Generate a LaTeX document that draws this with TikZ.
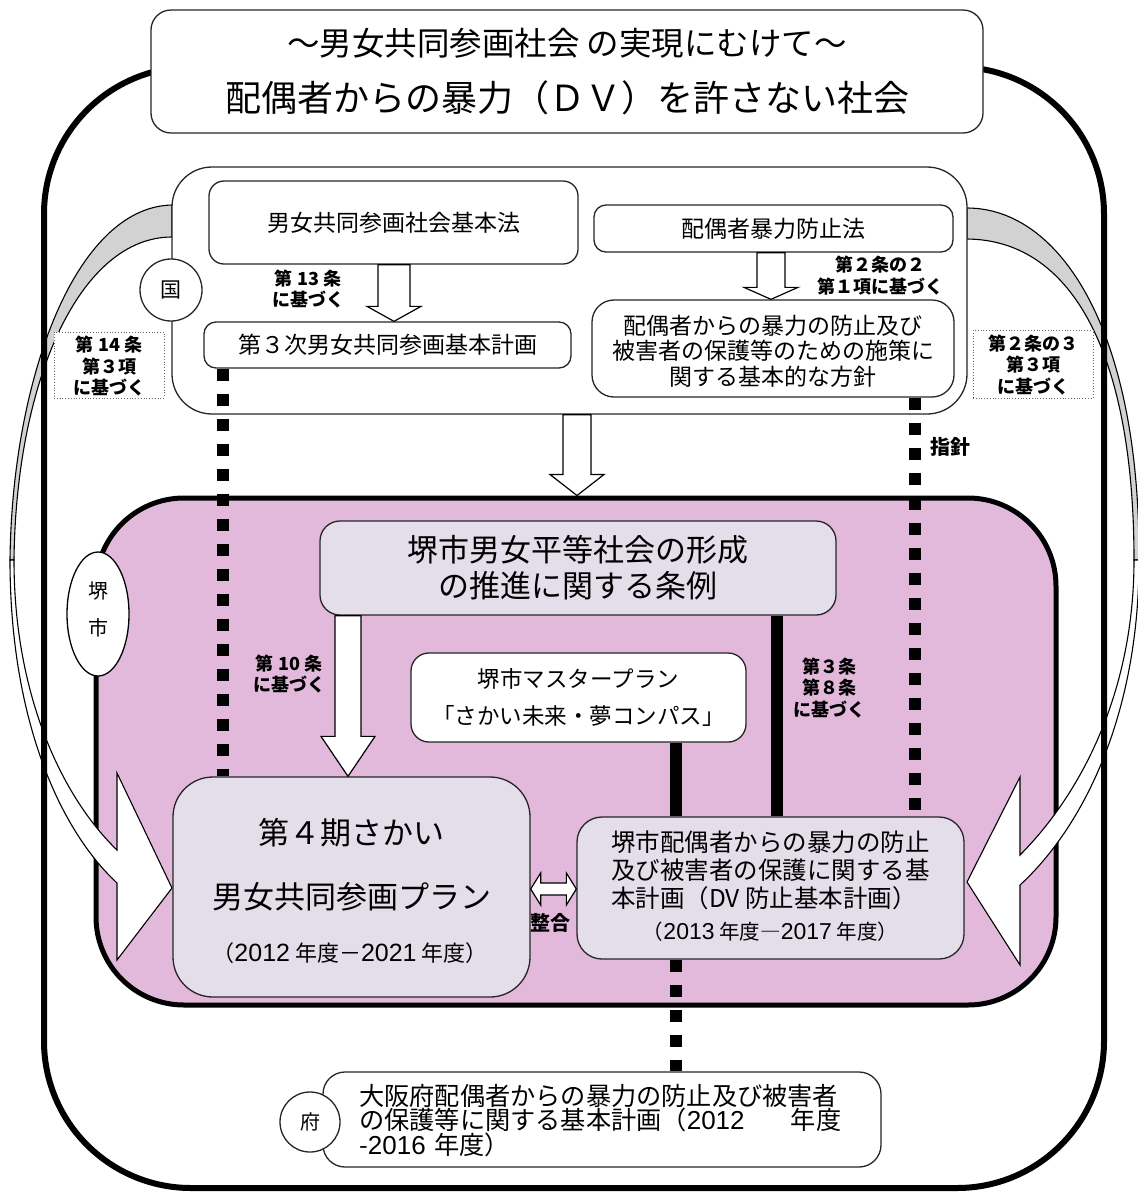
\documentclass[tikz,border=0pt]{standalone}
\usepackage{fontspec}
\setmainfont{Noto Sans CJK JP}
\newfontfamily\latf{Liberation Sans}
\usetikzlibrary{calc,shapes.geometric}
\definecolor{purp}{RGB}{226,184,219}
\definecolor{lav}{RGB}{228,222,235}
\definecolor{rgray}{RGB}{210,210,210}
\newcommand\jfs[2]{\fontsize{#1pt}{#2pt}\selectfont}
\newcommand\dg[2]{{\latf\fontsize{#1pt}{#1pt}\selectfont #2}}
\newcommand\bdarrow[5]{\draw[blockarr] let \p1=(#1), \p2=(#2) in (\x2-#3pt,\y1) -- (\x2-#3pt,\y2+#5pt) -- (\x2-#4pt,\y2+#5pt) -- (\x2,\y2) -- (\x2+#4pt,\y2+#5pt) -- (\x2+#3pt,\y2+#5pt) -- (\x2+#3pt,\y1) -- cycle;}
\tikzset{
  rbox/.style={draw=black!85, line width=1.3pt, rounded corners=#1, inner sep=0pt},
  rbox/.default=15pt,
  blockarr/.style={draw=black, line width=1.2pt, fill=white, line join=miter},
  ribbon/.style={draw=black, line width=1.1pt},
  dotl/.style={line width=12pt, dash pattern=on 12pt off 13pt},
  thickl/.style={line width=12pt},
  lbl/.style={font=\bfseries\jfs{18}{21.5}, align=center, inner sep=0pt},
  dbox/.style={draw=black!60, dotted, line width=0.8pt, fill=white, inner sep=0pt},
  txt/.style={inner sep=0pt, align=center},
}
\begin{document}
\begin{tikzpicture}[x=1pt,y=-1pt]
\useasboundingbox (0,0) rectangle (1138,1192);
% Sakai region
\node[draw=black, line width=5pt, fill=purp, rounded corners=88pt, minimum width=960pt, minimum height=507pt, inner sep=0pt] (sakaibox) at (576,751.5) {};
% left ribbon
\filldraw[ribbon, fill=rgray] (172,205) .. controls (75,207) and (12,380) .. (10,560) -- (14,560) .. controls (16,380) and (80,237) .. (172,237) -- cycle;
\filldraw[ribbon, fill=white] (10,560) .. controls (10,720) and (60,830) .. (117,883) -- (117,960) -- (172,888) -- (117,773) -- (117,850) .. controls (65,800) and (14,700) .. (14,560) -- cycle;
% right ribbon
\filldraw[ribbon, fill=rgray] (967,208) .. controls (1060,208) and (1140,330) .. (1139,560) -- (1134,560) .. controls (1134,360) and (1075,240) .. (967,239) -- cycle;
\filldraw[ribbon, fill=white] (1139,560) .. controls (1139,720) and (1080,830) .. (1020,885) -- (1020,965) -- (967,882) -- (1020,777) -- (1020,855) .. controls (1075,800) and (1134,700) .. (1134,560) -- cycle;
% outer frame
\node[draw=black, line width=6pt, rounded corners=147pt, minimum width=1060pt, minimum height=1121pt, inner sep=0pt] (frame) at (574,627.5) {};
% title
\node[rbox=20pt, minimum width=832pt, minimum height=123pt, fill=white] (title) at (567,71.5) {};
\node[txt, font=\jfs{32.5}{38}] (tl1) at (567,43) {～男女共同参画社会 の実現にむけて～};
\node[txt, font=\jfs{36}{40}] (tl2) at (567,98) {配偶者からの暴力（ＤＶ）を許さない社会};
% national
\node[rbox=40pt, minimum width=795pt, minimum height=247pt, fill=white] (kuni) at (569.5,290.5) {};
\node[rbox=15pt, minimum width=369pt, minimum height=83pt, fill=white, font=\jfs{23}{28}] (kihonho) at (393.5,222.5) {男女共同参画社会基本法};
\node[rbox=12pt, minimum width=359pt, minimum height=47pt, fill=white, font=\jfs{23}{28}] (boushiho) at (773.5,228.5) {配偶者暴力防止法};
\node[rbox=12pt, minimum width=367pt, minimum height=46pt, fill=white, font=\jfs{23}{28}] (dai3ji) at (387.5,345) {第３次男女共同参画基本計画};
\node[rbox=22pt, minimum width=362pt, minimum height=97pt, fill=white] (houshin) at (773,348.5) {};
\node[txt, font=\jfs{23}{25.5}] (houshint) at (773,351) {配偶者からの暴力の防止及び\\被害者の保護等のための施策に\\関する基本的な方針};
\node[circle, draw=black!85, line width=1.3pt, fill=white, minimum size=62pt, inner sep=0pt, font=\jfs{21}{24}] (kunic) at (171,290) {国};
% dotted label boxes
\node[dbox, minimum width=110pt, minimum height=66pt] (l14box) at (109,365) {};
\node[lbl] (l14) at (109,366.5) {第 14 条\\第３項\\に基づく};
\node[dbox, minimum width=120pt, minimum height=68pt] (l23box) at (1033,364) {};
\node[lbl] (l23) at (1033,365) {第２条の３\\第３項\\に基づく};
% Sakai boxes
\node[rbox=20pt, fill=lav, minimum width=516pt, minimum height=94pt, font=\jfs{31}{36}, align=center] (jourei) at (578,568) {堺市男女平等社会の形成\\の推進に関する条例};
\node[rbox=18pt, fill=white, minimum width=335pt, minimum height=89pt, font=\jfs{22.5}{37}, align=center] (master) at (578.5,697.5) {堺市マスタープラン\\「さかい未来・夢コンパス」};
\node[rbox=40pt, fill=lav, minimum width=357pt, minimum height=220pt] (plan4) at (351.5,887) {};
\node[txt, font=\jfs{31}{36}] (p4a) at (351.5,833) {第４期さかい};
\node[txt, font=\jfs{31}{36}] (p4b) at (351.5,897) {男女共同参画プラン};
\node[txt, font=\jfs{22}{26}] (p4c) at (350,953) {（\dg{25}{2012} 年度－\dg{25}{2021} 年度）};
\node[rbox=25pt, fill=lav, minimum width=387pt, minimum height=142pt] (dv) at (770.5,888) {};
\node[txt, align=left, font=\jfs{24.5}{28}] (dvt) at (770.5,870) {堺市配偶者からの暴力の防止\\及び被害者の保護に関する基\\本計画（DV 防止基本計画）};
\node[txt, font=\jfs{20.5}{24}] (dvy) at (770.5,932) {（\dg{23}{2013} 年度―\dg{23}{2017} 年度）};
\node[ellipse, draw=black, line width=1.3pt, fill=white, minimum width=62pt, minimum height=124pt, inner sep=0pt] (sakaic) at (98,614) {};
\node[txt, font=\jfs{20}{37}] (sakait) at (98,609) {堺\\市};
% prefecture
\node[rbox=22pt, fill=white, minimum width=558pt, minimum height=95pt] (fubox) at (602,1119.5) {};
\node[txt, anchor=west, align=left, text width=482pt, font=\jfs{25.2}{23.5}] (fut) at (359,1120.5) {大阪府配偶者からの暴力の防止及び被害者\\の保護等に関する基本計画（\dg{26}{2012}\hfill 年度\\-\dg{26}{2016} 年度）};
\node[circle, draw=black!85, line width=1.3pt, fill=white, minimum size=60pt, inner sep=0pt, font=\jfs{20}{24}] (fuc) at (310,1122) {府};
% helper coordinates
\coordinate (x13) at (394,0);
\coordinate (xdv) at (771,0);
\coordinate (xdn) at (577,0);
\coordinate (xj10) at (348,0);
\coordinate (xl) at (223,0);
\coordinate (xm) at (676,0);
\coordinate (xj) at (777,0);
\coordinate (xr) at (915,0);
\coordinate (ys) at (0,889);
% lines
\draw[dotl] (dai3ji.south -| xl) -- (plan4.north -| xl);
\draw[dotl] (houshin.south -| xr) -- (dv.north -| xr);
\draw[dotl] (dv.south -| xm) -- (fubox.north -| xm);
\draw[thickl] (master.south -| xm) -- (dv.north -| xm);
\draw[thickl] (jourei.south -| xj) -- (dv.north -| xj);
% block arrows
\bdarrow{kihonho.south -| x13}{dai3ji.north -| x13}{16}{27}{15}
\bdarrow{boushiho.south -| xdv}{houshin.north -| xdv}{14}{27}{12}
\bdarrow{kuni.south -| xdn}{sakaibox.north -| xdn}{14}{27}{21}
\bdarrow{jourei.south -| xj10}{plan4.north -| xj10}{13}{27}{40}
\draw[blockarr] let \p1=(plan4.east |- ys), \p2=(dv.west |- ys) in (\p1) -- (\x1+10pt,\y1+16pt) -- (\x1+10pt,\y1+6pt) -- (\x2-10pt,\y1+6pt) -- (\x2-10pt,\y1+16pt) -- (\p2) -- (\x2-10pt,\y1-16pt) -- (\x2-10pt,\y1-6pt) -- (\x1+10pt,\y1-6pt) -- (\x1+10pt,\y1-16pt) -- cycle;
% labels
\node[lbl] (l13) at (308,289) {第 13 条\\に基づく};
\node[lbl] (l22) at (880,275.5) {第２条の２\\第１項に基づく};
\node[lbl] (l10) at (289,674) {第 10 条\\に基づく};
\node[lbl] (l38) at (829,688) {第３条\\第８条\\に基づく};
\node[lbl, font=\bfseries\jfs{20}{24}] (shishin) at (950,447) {指針};
\node[lbl, font=\bfseries\jfs{20}{24}] (seigou) at (550,923) {整合};
\end{tikzpicture}
\end{document}
